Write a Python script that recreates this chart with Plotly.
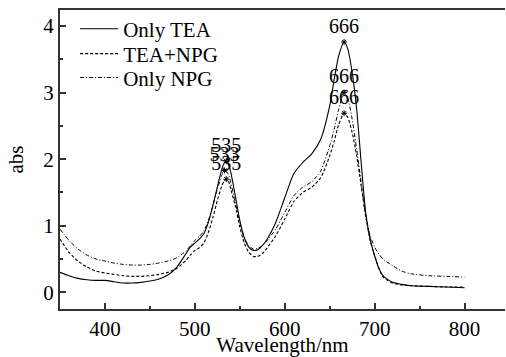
import plotly.graph_objects as go

wavelength = [350, 360, 370, 380, 390, 400, 410, 420, 430, 440, 450, 460, 470, 480, 490, 495,
              500, 505, 510, 515, 520, 525, 530, 533, 535, 538, 540, 545, 550, 555, 560, 565,
              570, 575, 580, 590, 600, 610, 620, 630, 640, 650, 655, 660, 666, 670, 675, 680,
              685, 690, 695, 700, 705, 710, 720, 730, 740, 760, 780, 800]

only_tea = [0.30, 0.25, 0.21, 0.19, 0.18, 0.18, 0.16, 0.14, 0.14, 0.15, 0.17, 0.20, 0.26, 0.38, 0.58, 0.68,
            0.74, 0.80, 0.88, 1.05, 1.30, 1.58, 1.85, 1.95, 1.97, 1.90, 1.80, 1.45, 1.08, 0.82, 0.68, 0.63,
            0.64, 0.70, 0.79, 1.05, 1.42, 1.78, 1.95, 2.08, 2.30, 2.80, 3.20, 3.55, 3.76, 3.66, 3.30, 2.75,
            1.95, 1.20, 0.80, 0.55, 0.35, 0.24, 0.15, 0.12, 0.10, 0.09, 0.08, 0.07]

tea_npg = [0.80, 0.60, 0.47, 0.38, 0.32, 0.29, 0.27, 0.25, 0.24, 0.24, 0.25, 0.27, 0.30, 0.36, 0.48, 0.56,
           0.63, 0.67, 0.74, 0.90, 1.12, 1.38, 1.60, 1.68, 1.70, 1.65, 1.55, 1.30, 0.98, 0.74, 0.60, 0.54,
           0.54, 0.58, 0.66, 0.85, 1.10, 1.36, 1.50, 1.58, 1.72, 2.05, 2.27, 2.52, 2.69, 2.63, 2.40, 2.05,
           1.60, 1.15, 0.78, 0.55, 0.35, 0.22, 0.14, 0.11, 0.10, 0.09, 0.08, 0.08]

only_npg = [0.95, 0.78, 0.65, 0.56, 0.50, 0.47, 0.44, 0.42, 0.41, 0.41, 0.42, 0.44, 0.47, 0.52, 0.62, 0.70,
            0.78, 0.84, 0.92, 1.08, 1.30, 1.55, 1.76, 1.83, 1.82, 1.75, 1.65, 1.35, 1.05, 0.82, 0.70, 0.65,
            0.66, 0.70, 0.77, 0.95, 1.20, 1.45, 1.58, 1.66, 1.82, 2.20, 2.45, 2.75, 3.00, 2.92, 2.60, 2.15,
            1.65, 1.15, 0.85, 0.68, 0.57, 0.49, 0.40, 0.32, 0.28, 0.25, 0.24, 0.23]

peak_x = [535, 666, 535, 666, 533, 666]
peak_y = [1.97, 3.76, 1.70, 2.69, 1.83, 3.00]
peak_labels = ["535", "666", "535", "666", "533", "666"]

x_ticks = [400, 500, 600, 700, 800]
y_ticks = [0, 1, 2, 3, 4]

FONT = "Liberation Serif"
FS = 21

fig = go.Figure()
fig.add_trace(go.Scatter(x=wavelength, y=only_tea, name="Only TEA", mode="lines", legend="legend",
                         line=dict(color="black", width=1.1, shape="spline", smoothing=0.6)))
fig.add_trace(go.Scatter(x=wavelength, y=tea_npg, name="TEA+NPG", mode="lines", legend="legend2",
                         line=dict(color="black", width=1.1, dash="3px,2px", shape="spline", smoothing=0.6)))
fig.add_trace(go.Scatter(x=wavelength, y=only_npg, name="Only NPG", mode="lines", legend="legend3",
                         line=dict(color="black", width=1.0, dash="4px,2px,1px,2px", shape="spline", smoothing=0.6)))
fig.add_trace(go.Scatter(x=peak_x, y=peak_y, text=peak_labels, mode="markers+text",
                         textposition="top center", showlegend=False,
                         marker=dict(symbol="asterisk-open", size=5, color="black", line=dict(width=1, color="black")),
                         textfont=dict(family=FONT, size=20, color="black")))

axis_common = dict(showgrid=False, zeroline=False, showline=True, linecolor="#333333", linewidth=2,
                   ticks="inside", ticklen=6, tickwidth=2, tickcolor="#333333",
                   tickfont=dict(family=FONT, size=FS, color="black"))

fig.update_xaxes(range=[350, 845], tickvals=x_ticks, mirror=True,
                 minor=dict(dtick=50, tick0=350, ticks="inside", ticklen=3, tickwidth=2, tickcolor="#333333"),
                 title=dict(text="Wavelength/nm", font=dict(family=FONT, size=FS, color="black"), standoff=0),
                 **axis_common)
fig.update_yaxes(range=[-0.25, 4.24], tickvals=y_ticks,
                 minor=dict(dtick=0.5, tick0=0, ticks="inside", ticklen=3, tickwidth=2, tickcolor="#333333"),
                 title=dict(text="abs", font=dict(family=FONT, size=FS, color="black"), standoff=14),
                 **axis_common)

leg_common = dict(x=0.034, xanchor="left", yanchor="middle", bgcolor="rgba(0,0,0,0)",
                  font=dict(family=FONT, size=FS, color="black"), itemwidth=38)
fig.update_layout(width=506, height=357, margin=dict(l=60, r=1, t=10, b=48, autoexpand=False),
                  plot_bgcolor="white", paper_bgcolor="white",
                  font=dict(family=FONT, size=FS, color="black"),
                  legend=dict(y=0.936, **leg_common),
                  legend2=dict(y=0.853, **leg_common),
                  legend3=dict(y=0.773, **leg_common))

fig.write_html("out.html", config={"displayModeBar": False},
               post_script="document.body.style.margin='0';document.body.style.overflow='hidden';")
